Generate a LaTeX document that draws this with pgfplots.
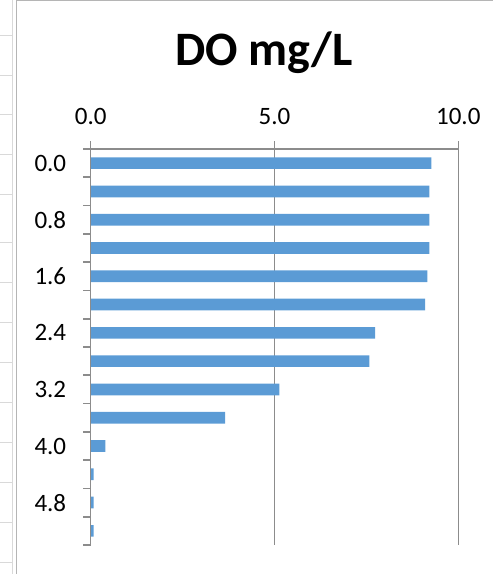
\documentclass[border=0pt]{standalone}
\usepackage{pgfplots}
\pgfplotsset{compat=1.18}
\usepackage{fontspec}
\setmainfont{Carlito}
\definecolor{barblue}{HTML}{5B9BD5}
\definecolor{axisgrey}{HTML}{8C8C8C}
\definecolor{sheetgrey}{HTML}{D9D9D9}
\definecolor{framegrey}{HTML}{B5B5B5}

\begin{document}
\begin{tikzpicture}[x=1pt,y=1pt]
\useasboundingbox (0,0) rectangle (493,574);
% worksheet cell grid behind the chart
\foreach \py in {36,76,115,155,195,243,283,323,363,403,443,483,523,563}
  \draw[sheetgrey, line width=1pt] (0,574-\py) -- (12,574-\py);
\draw[sheetgrey, line width=1.5pt] (12.5,0) -- (12.5,574);
% chart area frame
\draw[framegrey, line width=1pt] (16.5,0) -- (16.5,573.5) -- (493,573.5);

% chart title
\node[anchor=base, font=\fontsize{48}{56}\selectfont\bfseries] at (264,508.3) {DO mg/L};

% depth categories run from 0.0 (top, y=13) to 5.2 (bottom, y=0)
\begin{axis}[
  at={(90.7pt,29pt)}, anchor=south west,
  scale only axis, width=367.6pt, height=396pt,
  xbar, bar width=11.7pt,
  xmin=0, xmax=10,
  ymin=-0.5, ymax=13.5,
  scaled ticks=false,
  xtick scale label code/.code={},
  ytick scale label code/.code={},
  axis line style={draw=none},
  xtick pos=right, xticklabel pos=right,
  ytick pos=left, yticklabel pos=left,
  xtick={0,5,10}, xticklabels={0.0,5.0,10.0},
  xmajorgrids, grid style={axisgrey, line width=1.6pt},
  % tick marks sit on the category boundaries
  ytick={-0.5,0.5,...,13.5},
  yticklabels={,,,,,,,,,,,,,,,},
  % category names on every other category
  extra y ticks={13,11,9,7,5,3,1},
  extra y tick labels={0.0,0.8,1.6,2.4,3.2,4.0,4.8},
  extra y tick style={major tick length=0pt},
  tick align=outside, major tick length=7.5pt,
  tick style={axisgrey, line width=1.6pt},
  ticklabel style={font=\fontsize{25}{30}\selectfont, text=black},
  yticklabel style={anchor=east, xshift=-21pt},
  xticklabel style={anchor=base, yshift=17pt},
  clip=false,
]
\addplot[fill=barblue, draw=none] coordinates {
  (9.27,13) (9.21,12) (9.21,11) (9.21,10) (9.16,9) (9.10,8) (7.74,7)
  (7.58,6) (5.13,5) (3.66,4) (0.40,3) (0.08,2) (0.08,1) (0.08,0)
};
% value axis line along the top, category axis line on the left
\draw[axisgrey, line width=1.6pt] (rel axis cs:0,0) -- (rel axis cs:0,1) -- (rel axis cs:1,1);
\end{axis}
\end{tikzpicture}
\end{document}
